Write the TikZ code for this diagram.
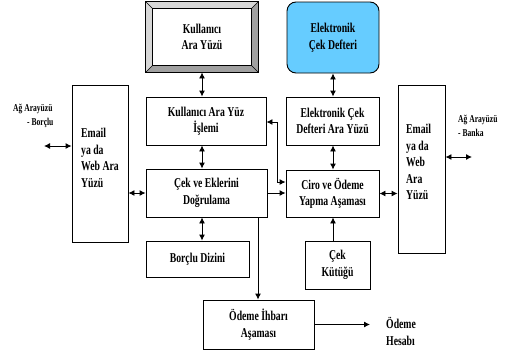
\documentclass[tikz,border=0pt]{standalone}
\usepackage{fontspec}
\setmainfont{Liberation Serif}[FakeStretch=0.72]
\usetikzlibrary{arrows.meta,calc}
\definecolor{cekblue}{RGB}{102,204,255}
\definecolor{bevlight}{RGB}{215,215,215}
\definecolor{bevdark}{RGB}{160,160,160}
\begin{document}
\begin{tikzpicture}[x=1pt,y=-1pt,
  box/.style={draw=black,line width=0.9pt,fill=white,inner sep=0pt,align=center,
    font=\fontsize{13.5}{16.5}\selectfont\bfseries},
  tbox/.style={draw=black,line width=0.9pt,fill=white,inner sep=0pt},
  lbl/.style={inner sep=0pt,align=left,font=\fontsize{13.5}{16.5}\selectfont\bfseries},
  small/.style={inner sep=0pt,align=left,font=\fontsize{10.5}{14}\selectfont\bfseries},
  conn/.style={line width=0.9pt,-{Latex[length=6pt,width=6pt]}},
  dconn/.style={line width=0.9pt,{Latex[length=6pt,width=6pt]}-{Latex[length=6pt,width=6pt]}}]
\useasboundingbox (0,0) rectangle (505,356);

% nodes
\node[box,minimum width=112,minimum height=70] (kay) at (202,37) {Kullanıcı\\Ara Yüzü};
\node[box,fill=cekblue,rounded corners=9pt,minimum width=92,minimum height=71] (ecd) at (333,37.5) {Elektronik\\Çek Defteri};
\node[box,minimum width=120,minimum height=48] (kayi) at (206,121) {Kullanıcı Ara Yüz\\İşlemi};
\node[box,minimum width=93,minimum height=48] (ecdy) at (332.5,121) {Elektronik Çek\\Defteri Ara Yüzü};
\node[box,minimum width=121,minimum height=48] (ced) at (206.5,193) {Çek ve Eklerini\\Doğrulama};
\node[box,minimum width=93,minimum height=47] (ciro) at (332.5,193.5) {Ciro ve Ödeme\\Yapma Aşaması};
\node[box,minimum width=103,minimum height=36] (borclu) at (197.5,259) {Borçlu Dizini};
\node[box,minimum width=65,minimum height=48] (kutuk) at (337.5,265) {Çek\\Kütüğü};
\node[box,minimum width=111,minimum height=49] (odeme) at (258.5,324.5) {Ödeme İhbarı\\Aşaması};
\node[tbox,minimum width=56,minimum height=157] (emailL) at (100,163.5) {};
\node[lbl,anchor=north west] (emailLt) at (81,128) {Email\\ya da\\Web Ara\\Yüzü};
\node[tbox,minimum width=47,minimum height=168] (emailR) at (421.5,169) {};
\node[lbl,anchor=north west] (emailRt) at (406,124) {Email\\ya da\\Web\\Ara\\Yüzü};
\node[lbl,anchor=west] (hesap) at (386,331.5) {Ödeme\\Hesabı};
\node[small,anchor=north west] (agL) at (13,104) {Ağ Arayüzü\\\hspace*{14pt}- Borçlu};
\node[small,anchor=north west] (agR) at (458,115) {Ağ Arayüzü\\- Banka};

% bevel of Kullanici Ara Yuzu
\coordinate (kin1) at ($(kay.north west)+(7,7)$);
\coordinate (kin2) at ($(kay.north east)+(-7,7)$);
\coordinate (kin3) at ($(kay.south east)+(-7,-7)$);
\coordinate (kin4) at ($(kay.south west)+(7,-7)$);
\fill[bevlight] (kay.north west) -- (kay.north east) -- (kin2) -- (kin1) -- (kin4) -- (kay.south west) -- cycle;
\fill[bevdark] (kay.north east) -- (kay.south east) -- (kay.south west) -- (kin4) -- (kin3) -- (kin2) -- cycle;
\draw[line width=0.9pt] (kay.north west) rectangle (kay.south east);
\draw[line width=0.9pt] (kin1) rectangle (kin3);
\draw[line width=0.5pt] (kay.north west) -- (kin1) (kay.north east) -- (kin2)
  (kay.south east) -- (kin3) (kay.south west) -- (kin4);

% external endpoints
\coordinate (lext) at (44,146);
\coordinate (rext) at (472,157);
\coordinate (t1) at (277,122);
\coordinate (t2) at (277,182);
\coordinate (dn) at (258,217);
\coordinate (hend) at (370,324.5);

% connectors
\draw[dconn] (kay.south) -- (kayi.north -| kay.south);
\draw[dconn] (kayi.south -| kay.south) -- (ced.north -| kay.south);
\draw[dconn] (ced.south -| kay.south) -- (borclu.north -| kay.south);
\draw[dconn] (ecd.south) -- (ecdy.north -| ecd.south);
\draw[dconn] (ecdy.south -| ecd.south) -- (ciro.north -| ecd.south);
\draw[conn] (kutuk.north -| ecd.south) -- (ciro.south -| ecd.south);
\draw[dconn] (emailL.east |- ced.west) -- (ced.west);
\draw[dconn] (ciro.east) -- (emailR.west |- ciro.east);
\draw[dconn] (lext) -- (lext -| emailL.west);
\draw[dconn] (emailR.east |- rext) -- (rext);
\draw[dconn] (kayi.east |- t1) -- (t1) -- (t2) -- (t2 -| ciro.west);
\draw[conn] (ced.east) -- (ciro.west |- ced.east);
\draw[conn] (dn) -- (odeme.north -| dn);
\draw[conn] (odeme.east) -- (hend);
\end{tikzpicture}
\end{document}
